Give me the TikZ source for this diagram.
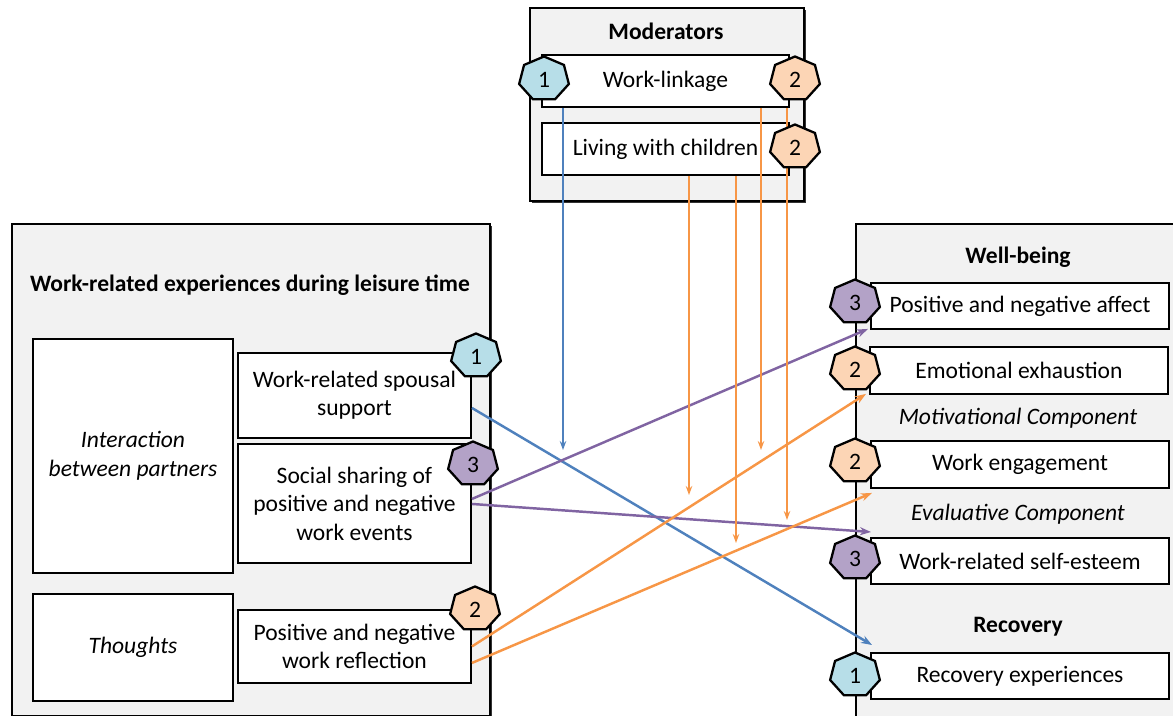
\documentclass[tikz,border=0pt]{standalone}
\usepackage{fontspec}
\setmainfont{Carlito}
\usetikzlibrary{arrows.meta,calc,shadows}

\definecolor{boxgray}{HTML}{F2F2F2}
\definecolor{linkblue}{HTML}{4F81BD}
\definecolor{linkorange}{HTML}{F79646}
\definecolor{linkpurple}{HTML}{8064A2}
\definecolor{badgeblue}{HTML}{B7DEE8}
\definecolor{badgeorange}{HTML}{FCD5B5}
\definecolor{badgepurple}{HTML}{B3A2C7}

\newcommand{\diagfont}{\fontsize{13.4}{16.2}\selectfont}

% heptagon badge: name, x, y, colour, number
\newcommand{\heptbadge}[5]{%
  \draw[badgeline, fill=#4] ($(#2,#3)+(270:25.5 and 22.5)$)
    \foreach \k in {1,...,6} {-- ($(#2,#3)+(270+\k*51.43:25.5 and 22.5)$)} -- cycle;
  \node[badgetext] (#1) at (#2,#3+1) {#5};
}

\tikzset{
  outer/.style={draw, line width=1pt, fill=boxgray, anchor=north west, inner sep=0pt,
    drop shadow={shadow xshift=0.5mm, shadow yshift=-0.5mm, fill=black, opacity=0.8}},
  inner/.style={draw, line width=1.1pt, fill=white, anchor=north west, align=center,
    inner sep=2pt, font=\diagfont},
  heading/.style={font=\diagfont\bfseries},
  compname/.style={font=\diagfont\itshape},
  badgeline/.style={draw, line width=1.3pt},
  badgetext/.style={font=\diagfont, inner sep=0pt},
  link/.style={line width=1.4pt, -{Stealth[length=2.2mm,width=1.6mm]}},
  modlink/.style={line width=0.6pt, -{Stealth[length=1.8mm,width=1.3mm]}},
}

\begin{document}
\begin{tikzpicture}[x=0.2mm, y=-0.2mm]
  \useasboundingbox (0,0) rectangle (1173,716);

  % moderators
  \node[outer, minimum width=54.8mm, minimum height=38.6mm] (modbox) at (529,7) {};
  \node[heading] (modtitle) at (666,31) {Moderators};
  \node[inner, minimum width=49.4mm, minimum height=10.4mm] (wlink) at (541,54) {Work-linkage};
  \node[inner, minimum width=49.4mm, minimum height=10.4mm] (livchild) at (541,122) {Living with children};

  % work-related experiences
  \node[outer, minimum width=95.6mm, minimum height=98.4mm] (leftbox) at (11,223) {};
  \node[heading] (lefttitle) at (250,285) {Work-related experiences during leisure time};
  \node[inner, font=\diagfont\itshape, minimum width=40mm, minimum height=46.8mm] (inter) at (32,338) {Interaction\\between partners};
  \node[inner, font=\diagfont\itshape, minimum width=40mm, minimum height=21.4mm] (thoughts) at (32,593) {Thoughts};
  \node[inner, minimum width=46.6mm, minimum height=17mm] (spouse) at (237,352) {Work-related spousal\\support};
  \node[inner, minimum width=46.6mm, minimum height=23.8mm] (sharing) at (237,443) {Social sharing of\\positive and negative\\work events};
  \node[inner, minimum width=46.6mm, minimum height=14.6mm] (reflect) at (237,609) {Positive and negative\\work reflection};

  % outcomes
  \node[outer, minimum width=66mm, minimum height=102mm] (rightbox) at (855,223) {};
  \node[heading] (wbtitle) at (1018,257) {Well-being};
  \node[inner, minimum width=59.6mm, minimum height=9.2mm] (affect) at (870,282) {Positive and negative affect};
  \node[inner, minimum width=59.6mm, minimum height=9.4mm] (exhaust) at (869,346) {Emotional exhaustion};
  \node[compname] (motiv) at (1018,418) {Motivational Component};
  \node[inner, minimum width=59.6mm, minimum height=9.4mm] (engage) at (870,440) {Work engagement};
  \node[compname] (evalu) at (1018,514) {Evaluative Component};
  \node[inner, minimum width=59.6mm, minimum height=9.2mm] (esteem) at (870,537) {Work-related self-esteem};
  \node[heading] (rectitle) at (1018,627) {Recovery};
  \node[inner, minimum width=59.6mm, minimum height=9.2mm] (recexp) at (870,652) {Recovery experiences};

  % main effects
  \draw[link, linkblue] ([yshift=-2.5mm]spouse.east) -- ([shift={(0.4mm,1.4mm)}]recexp.north west);
  \draw[link, linkpurple] ([yshift=0.9mm]sharing.east) -- ([shift={(-0.4mm,0.2mm)}]affect.south west);
  \draw[link, linkpurple] ([yshift=-0.1mm]sharing.east) -- ([shift={(0.2mm,1mm)}]esteem.north west);
  \draw[link, linkorange] (reflect.east) -- ([shift={(-0.6mm,0.2mm)}]exhaust.south west);
  \draw[link, linkorange] ([yshift=-3.3mm]reflect.east) -- ([shift={(0.4mm,-0.8mm)}]engage.south west);

  % moderation
  \coordinate (mblue) at (563,450);
  \coordinate (morA) at (689,495);
  \coordinate (morB) at (736,543);
  \coordinate (morC) at (761,450);
  \coordinate (morD) at (787,520);
  \draw[modlink, linkblue] (wlink.south -| mblue) -- (mblue);
  \draw[modlink, linkorange] (livchild.south -| morA) -- (morA);
  \draw[modlink, linkorange] (livchild.south -| morB) -- (morB);
  \draw[modlink, linkorange] (wlink.south -| morC) -- (morC);
  \draw[modlink, linkorange] (wlink.south -| morD) -- (morD);

  % badges
  \heptbadge{bwlA}{544}{79}{badgeblue}{1}
  \heptbadge{bwlB}{795}{79}{badgeorange}{2}
  \heptbadge{blch}{795}{147}{badgeorange}{2}
  \heptbadge{bspo}{476}{356}{badgeblue}{1}
  \heptbadge{bsha}{473}{464}{badgepurple}{3}
  \heptbadge{bref}{475}{609}{badgeorange}{2}
  \heptbadge{baff}{855}{302}{badgepurple}{3}
  \heptbadge{bexh}{855}{369}{badgeorange}{2}
  \heptbadge{beng}{855}{461}{badgeorange}{2}
  \heptbadge{best}{855}{558}{badgepurple}{3}
  \heptbadge{brec}{855}{675}{badgeblue}{1}
\end{tikzpicture}
\end{document}
